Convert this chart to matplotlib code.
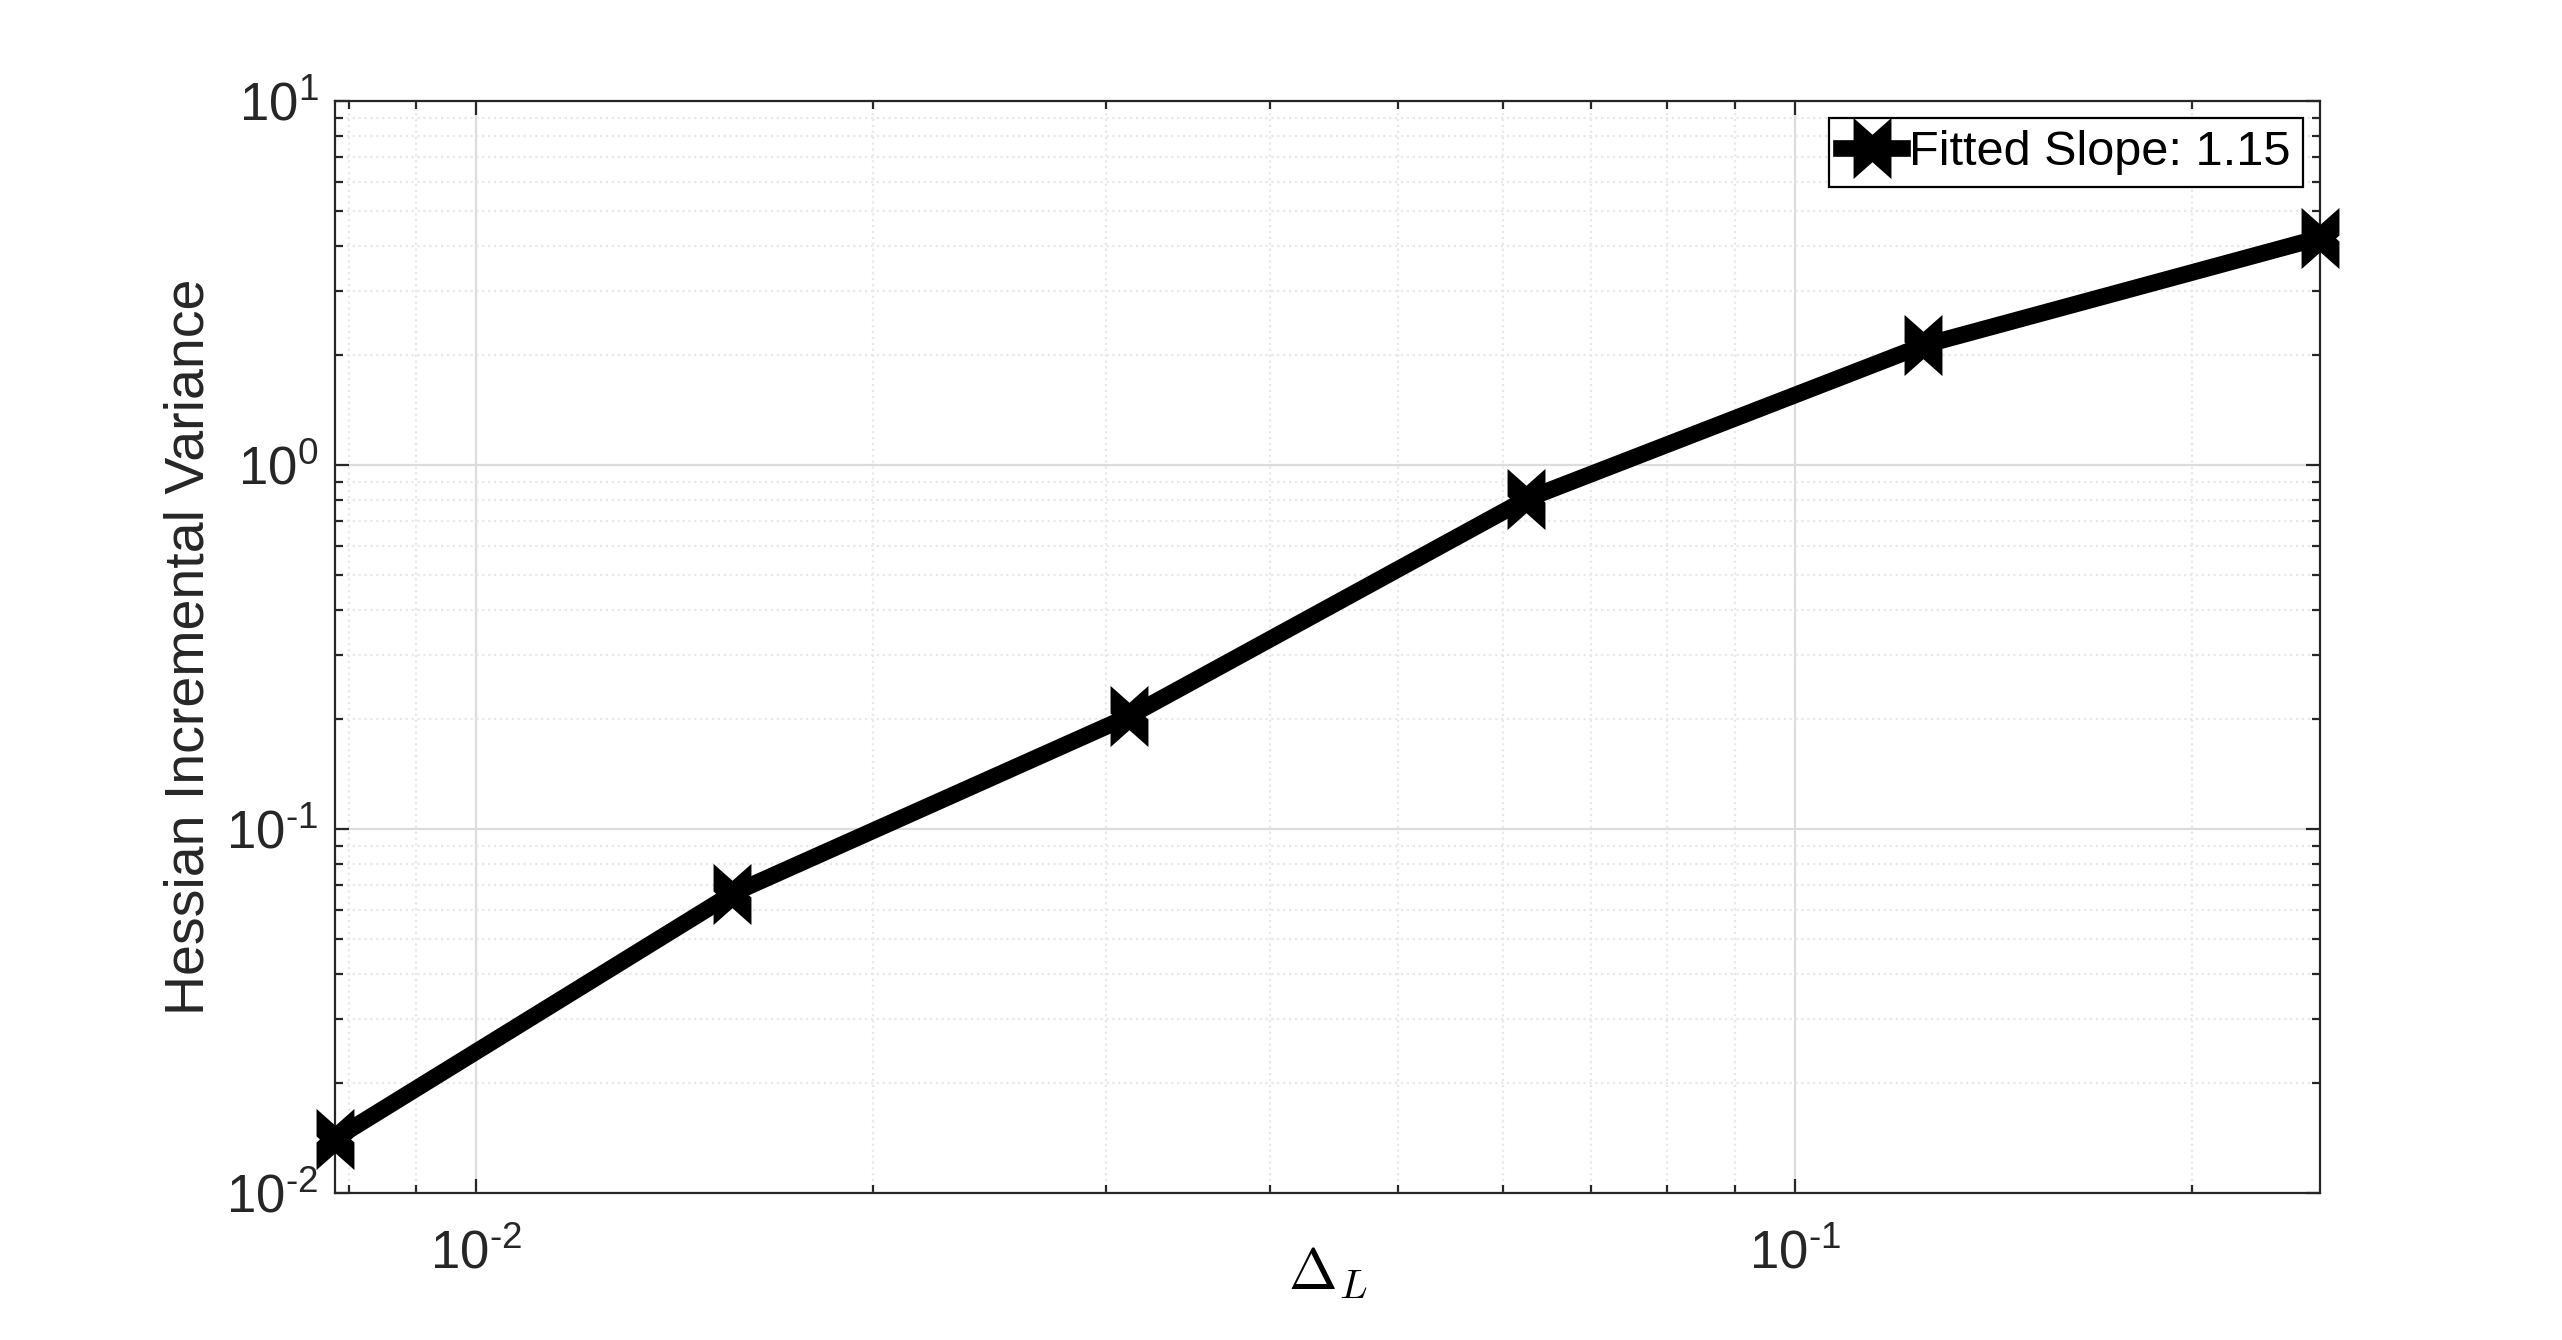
import numpy as np
import matplotlib
matplotlib.use("Agg")
import matplotlib.pyplot as plt
from matplotlib.path import Path
from matplotlib.ticker import LogLocator, FuncFormatter, NullFormatter

# data
delta_L = [1 / 128, 1 / 64, 1 / 32, 1 / 16, 1 / 8, 1 / 4]
hessian_var = [0.0141, 0.0664, 0.204, 0.805, 2.13, 4.21]
legend_label = "Fitted Slope: 1.15"

plt.rcParams["font.family"] = ["Liberation Sans", "DejaVu Sans"]
plt.rcParams["mathtext.fontset"] = "custom"
plt.rcParams["mathtext.rm"] = "Liberation Sans"
plt.rcParams["mathtext.it"] = "Liberation Sans:italic"


def pow10_label(v, pos):
    # MATLAB style 10^{-2}, with a short hyphen as the minus
    e = int(round(np.log10(v)))
    if e < 0:
        return r"$\mathdefault{10^{\text{-}%d}}$" % (-e)
    return r"$\mathdefault{10^{%d}}$" % e


# thick MATLAB-like 'x' marker: two strokes with vertical cut ends
a = 0.62
cross = Path([(-a, 1.0), (0, 0.45), (a, 1.0), (a, 0.1), (0.51, 0), (a, -0.1),
              (a, -1.0), (0, -0.45), (-a, -1.0), (-a, -0.1), (-0.51, 0),
              (-a, 0.1), (-a, 1.0)], closed=True)

fig = plt.figure(figsize=(12.81, 6.70), dpi=200)
ax = fig.add_axes([0.1308, 0.1097, 0.7747, 0.8149])

ax.loglog(delta_L, hessian_var, color="black", lw=6, marker=cross,
          ms=22, mew=0, mfc="black", label=legend_label, clip_on=False,
          zorder=5)

ax.set_xlim(1 / 128, 1 / 4)
ax.set_ylim(1e-2, 1e1)

ax.xaxis.set_major_locator(LogLocator(base=10))
ax.xaxis.set_minor_locator(LogLocator(base=10, subs=np.arange(2, 10)))
ax.yaxis.set_major_locator(LogLocator(base=10))
ax.yaxis.set_minor_locator(LogLocator(base=10, subs=np.arange(2, 10)))
ax.xaxis.set_major_formatter(FuncFormatter(pow10_label))
ax.yaxis.set_major_formatter(FuncFormatter(pow10_label))
ax.xaxis.set_minor_formatter(NullFormatter())
ax.yaxis.set_minor_formatter(NullFormatter())

ax.tick_params(which="both", direction="in", top=True, right=True,
               colors="#262626", labelsize=19, width=0.8)
ax.tick_params(which="major", length=5)
ax.tick_params(axis="x", which="major", pad=13)
ax.tick_params(axis="y", which="major", pad=6)
ax.tick_params(which="minor", length=3)

ax.grid(True, which="major", color="#dcdcdc", lw=0.8, ls="-")
ax.grid(True, which="minor", color="#e8e8e8", lw=0.8, ls=":")
ax.set_axisbelow(True)

for sp in ax.spines.values():
    sp.set_color("#262626")
    sp.set_linewidth(0.8)

ax.set_xlabel(r"$\Delta_L$", fontsize=21, math_fontfamily="cm")
ax.xaxis.set_label_coords(0.5, -0.048)
ax.set_ylabel("Hessian Incremental Variance", fontsize=20, color="#262626",
              labelpad=4)

leg = ax.legend(loc="upper right", fontsize=17.5, fancybox=False, framealpha=1,
                edgecolor="black", handlelength=1.25, handletextpad=0.15,
                borderpad=0.25, borderaxespad=0.35)
leg.get_frame().set_linewidth(0.8)

fig.savefig("out.png", dpi=200, facecolor="white")
